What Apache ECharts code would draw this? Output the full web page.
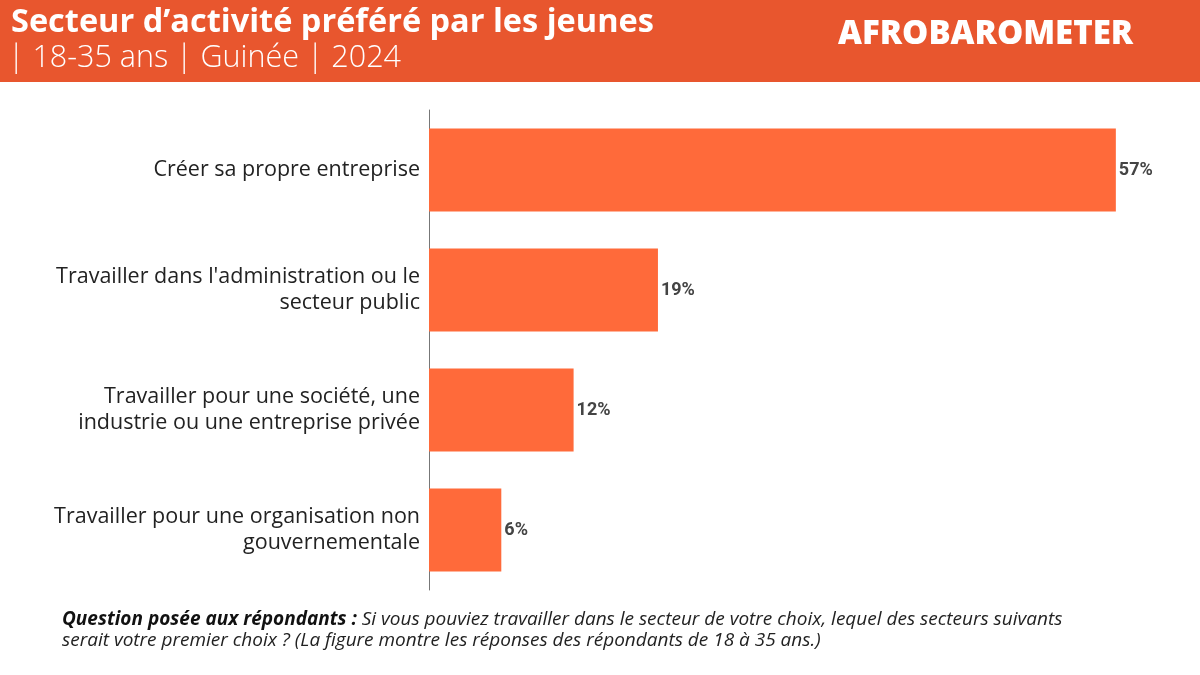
<!DOCTYPE html>
<html><head><meta charset="utf-8">
<script src="https://cdn.jsdelivr.net/npm/echarts@6/dist/echarts.min.js"></script>
<style>html,body{margin:0;padding:0;background:#fff}#c{width:1200px;height:675px}</style>
</head><body><div id="c"></div>
<script>
const categories = [
  "Créer sa propre entreprise",
  "Travailler dans l'administration ou le\nsecteur public",
  "Travailler pour une société, une\nindustrie ou une entreprise privée",
  "Travailler pour une organisation non\ngouvernementale"
];
const values = [57, 19, 12, 6];
const titleText = "Secteur d’activité préféré par les jeunes";
const subtitleText = "| 18-35 ans | Guinée | 2024";
const logoText = "AFROBAROMETER";
const noteBold = "Question posée aux répondants : ";
const noteText1 = "Si vous pouviez travailler dans le secteur de votre choix, lequel des secteurs suivants";
const noteText2 = "serait votre premier choix ? (La figure montre les réponses des répondants de 18 à 35 ans.)";

const chart = echarts.init(document.getElementById('c'));
chart.setOption({
  animation: false,
  backgroundColor: '#ffffff',
  graphic: [
    {type:'rect', shape:{x:0,y:0,width:1200,height:82}, style:{fill:'#E8562E'}},
    {type:'text', left:11, top:6, style:{text:titleText, fill:'#fff', font:'bold 32.5px "Open Sans", sans-serif'}},
    {type:'text', left:8, top:43, style:{text:subtitleText, fill:'#fff', font:'300 30.5px "Open Sans", sans-serif'}},
    {type:'text', left:838, top:18, style:{text:logoText, fill:'#fff', font:'800 33px "Open Sans", sans-serif'}},
    {type:'text', left:62, top:609, style:{
      rich:{b:{font:'italic bold 19px "Open Sans", sans-serif', fill:'#111'}, n:{font:'italic 19px "Open Sans", sans-serif', fill:'#222'}},
      text:'{b|'+noteBold+'}{n|'+noteText1+'}\n{n|'+noteText2+'}', lineHeight:21
    }}
  ],
  grid: {left:429, right:48, top:110, height:480, containLabel:false},
  xAxis: {type:'value', min:0, max:60, show:false},
  yAxis: {
    type:'category', data:categories, inverse:true,
    axisLine:{show:true, lineStyle:{color:'#777', width:1}},
    axisTick:{show:false},
    axisLabel:{color:'#222', fontSize:21.5, fontFamily:'"Open Sans", sans-serif', lineHeight:26, margin:9, align:'right'}
  },
  series: [{
    type:'bar', data:values, barWidth:83,
    itemStyle:{color:'#FF6A3A'},
    label:{show:true, position:'right', distance:3, formatter:'{c}%', color:'#444', fontSize:18, fontWeight:'bold', fontFamily:'Roboto, sans-serif'}
  }]
});
</script></body></html>
